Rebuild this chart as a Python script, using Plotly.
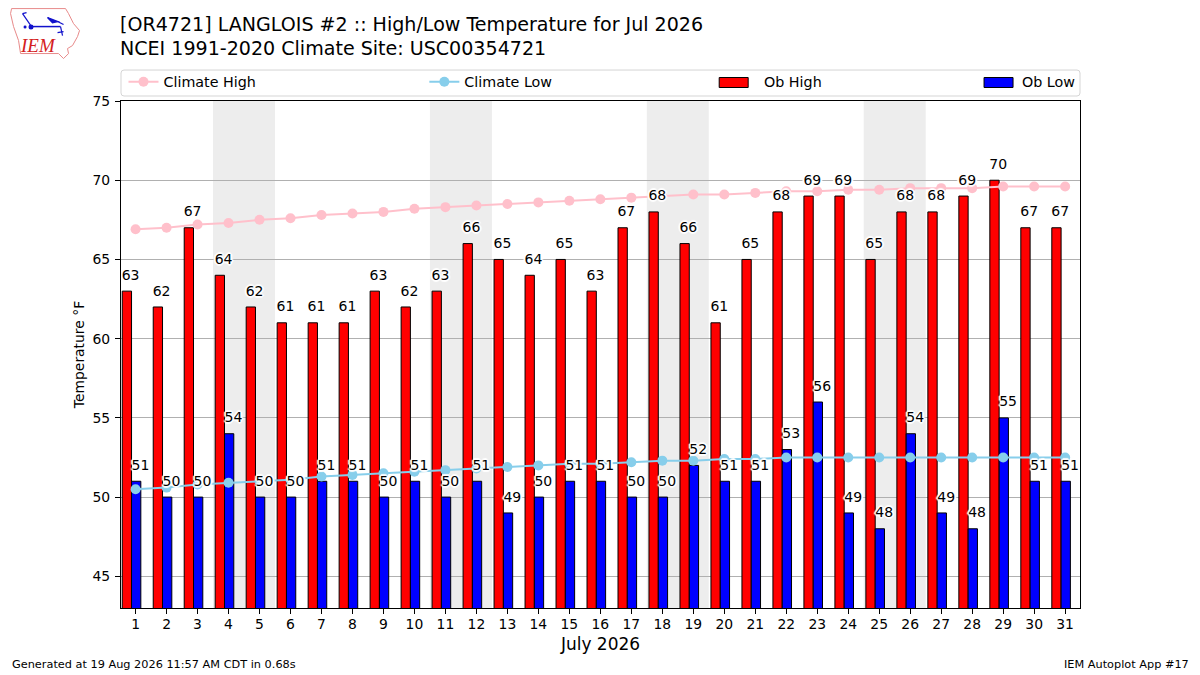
import plotly.graph_objects as go

days = list(range(1, 32))
ob_high = [63, 62, 67, 64, 62, 61, 61, 61, 63, 62, 63, 66, 65, 64, 65, 63,
           67, 68, 66, 61, 65, 68, 69, 69, 65, 68, 68, 69, 70, 67, 67]
ob_low = [51, 50, 50, 54, 50, 50, 51, 51, 50, 51, 50, 51, 49, 50, 51, 51,
          50, 50, 52, 51, 51, 53, 56, 49, 48, 54, 49, 48, 55, 51, 51]
clim_high = [66.9, 67.0, 67.2, 67.3, 67.5, 67.6, 67.8, 67.9, 68.0, 68.2, 68.3,
             68.4, 68.5, 68.6, 68.7, 68.8, 68.9, 69.0, 69.1, 69.1, 69.2, 69.3,
             69.3, 69.4, 69.4, 69.5, 69.5, 69.5, 69.6, 69.6, 69.6]
clim_low = [50.5, 50.6, 50.8, 50.9, 51.0, 51.1, 51.3, 51.4, 51.5, 51.6, 51.7,
            51.8, 51.9, 52.0, 52.1, 52.1, 52.2, 52.3, 52.3, 52.4, 52.4, 52.5,
            52.5, 52.5, 52.5, 52.5, 52.5, 52.5, 52.5, 52.5, 52.5]
weekends = [(3.5, 5.5), (10.5, 12.5), (17.5, 19.5), (24.5, 26.5)]

FONT = "DejaVu Sans"
HALO = ("2px 0 1px white, -2px 0 1px white, 0 2px 1px white, 0 -2px 1px white, "
        "1px 1px 1px white, -1px -1px 1px white, 1px -1px 1px white, -1px 1px 1px white")
LABEL_LIFT = 0.5  # value labels float a little above the bar top
PAGE_MARGIN = 8   # the browser's body margin pushes the figure this far in
PLOT_L, PLOT_R, PLOT_T, PLOT_B = 120.5, 1080, 100.5, 608


# page pixels -> paper coords, for things that sit outside the plot area
def px_x(x):
    return (x - PLOT_L) / (PLOT_R - PLOT_L)


def px_y(y):
    return (PLOT_B - y) / (PLOT_B - PLOT_T)


def px_path(points, close=False):
    s = "M " + " L ".join(f"{px_x(x):.5f},{px_y(y):.5f}" for x, y in points)
    return s + (" Z" if close else "")


def logo_line(points, color, width=1.0, fill=None):
    return dict(type="path", xref="paper", yref="paper", path=px_path(points, fill is not None),
                line=dict(color=color, width=width), fillcolor=fill, layer="above")


def rounded_box(x0, y0, x1, y1, r):
    pts = [("M", x0 + r, y0), ("L", x1 - r, y0), ("Q", x1, y0, x1, y0 + r), ("L", x1, y1 - r),
           ("Q", x1, y1, x1 - r, y1), ("L", x0 + r, y1), ("Q", x0, y1, x0, y1 - r),
           ("L", x0, y0 + r), ("Q", x0, y0, x0 + r, y0)]
    out = []
    for p in pts:
        coords = [f"{px_x(p[i]):.5f},{px_y(p[i + 1]):.5f}" for i in range(1, len(p), 2)]
        out.append(p[0] + " " + " ".join(coords))
    return " ".join(out) + " Z"


def page_text(text, x, y, size, anchor="left", family=FONT, color="black"):
    return dict(text=text, xref="paper", yref="paper", x=px_x(x), y=px_y(y), xanchor=anchor,
                yanchor="middle", showarrow=False, font=dict(family=family, size=size, color=color))


def swatch(x0, color):
    return dict(type="rect", xref="paper", yref="paper", x0=px_x(x0), x1=px_x(x0 + 29),
                y0=px_y(87), y1=px_y(77), fillcolor=color, line=dict(color="black", width=1), layer="above")


fig = go.Figure()

# ---------- bars ----------
fig.add_trace(go.Bar(x=days, y=ob_high, width=0.3, offset=-0.43, name="Ob High", showlegend=False,
                     marker=dict(color="red", line=dict(color="black", width=1))))
fig.add_trace(go.Bar(x=days, y=ob_low, width=0.3, offset=-0.13, name="Ob Low", showlegend=False,
                     marker=dict(color="blue", line=dict(color="black", width=1))))

# ---------- climate lines ----------
fig.add_trace(go.Scatter(x=days, y=clim_high, mode="lines+markers", name="Climate High", legend="legend",
                         line=dict(color="pink", width=2), marker=dict(color="pink", size=10)))
fig.add_trace(go.Scatter(x=days, y=clim_low, mode="lines+markers", name="Climate Low", legend="legend2",
                         line=dict(color="skyblue", width=2), marker=dict(color="skyblue", size=10)))

# ---------- value labels ----------
fig.add_trace(go.Scatter(x=[d - 0.16 for d in days], y=[v + LABEL_LIFT for v in ob_high], mode="text",
                         text=ob_high, textposition="top center", showlegend=False, cliponaxis=False,
                         textfont=dict(family=FONT, size=14, color="black", shadow=HALO)))
fig.add_trace(go.Scatter(x=[d + 0.16 for d in days], y=[v + LABEL_LIFT for v in ob_low], mode="text",
                         text=ob_low, textposition="top center", showlegend=False, cliponaxis=False,
                         textfont=dict(family=FONT, size=14, color="black", shadow=HALO)))

shapes = [dict(type="rect", xref="x", yref="paper", x0=a, x1=b, y0=0, y1=1,
               fillcolor="#ededed", line_width=0, layer="below") for a, b in weekends]

# legend frame and the two bar swatches
shapes.append(dict(type="path", xref="paper", yref="paper", path=rounded_box(120.5, 69.5, 1080, 95.5, 3),
                   line=dict(color="#d5d5d5", width=1), fillcolor="white", layer="below"))
shapes.append(swatch(719, "red"))
shapes.append(swatch(984, "blue"))

# IEM logo, roughly: state outline plus station plot
iowa = [(11, 8), (65, 8), (68, 13), (73, 23), (79, 30), (77, 36), (72, 45), (67, 48), (68, 53),
        (63, 58), (58, 53), (20, 53), (18, 40), (13, 26), (10, 13)]
shapes.append(logo_line(iowa, "#e88a8a", 1.0, fill="rgba(0,0,0,0)"))
shapes.append(logo_line([(31, 26), (60, 26)], "#1111cc", 1.5))
shapes.append(logo_line([(22, 13), (31, 26)], "#1111cc", 1.2))
shapes.append(logo_line([(22, 13), (26, 12)], "#1111cc", 1.2))
shapes.append(logo_line([(47, 17), (57, 21), (52, 22)], "#1111cc", 1.5, fill="#1111cc"))
shapes.append(logo_line([(57, 21), (63, 24)], "#1111cc", 1.2))
shapes.append(logo_line([(60, 26), (62, 35)], "#1111cc", 1.2))
shapes.append(logo_line([(57, 32), (63, 31)], "#1111cc", 1.2))
shapes.append(dict(type="circle", xref="paper", yref="paper", x0=px_x(28), x1=px_x(33),
                   y0=px_y(29), y1=px_y(24), fillcolor="#1111cc", line_width=0, layer="above"))
shapes.append(dict(type="circle", xref="paper", yref="paper", x0=px_x(23), x1=px_x(26),
                   y0=px_y(28), y1=px_y(25), fillcolor="#1111cc", line_width=0, layer="above"))

annotations = [
    page_text("[OR4721] LANGLOIS #2 :: High/Low Temperature for Jul 2026", 117, 23.5, 19.07),
    page_text("NCEI 1991-2020 Climate Site: USC00354721", 117, 47, 19.07),
    page_text("<i>IEM</i>", 37.5, 44.5, 19, anchor="center", family="Liberation Serif", color="#d42020"),
    page_text("Generated at 19 Aug 2026 11:57 AM CDT in 0.68s", 9, 664.5, 11.3),
    page_text("IEM Autoplot App #17", 1191, 664.5, 11.3, anchor="right"),
    page_text("Ob High", 762, 81.5, 14.3),
    page_text("Ob Low", 1020, 81.5, 14.3),
]


def legend_at(left):
    return dict(x=px_x(left), y=px_y(81.5), xanchor="left", yanchor="middle", orientation="h",
                bgcolor="rgba(0,0,0,0)", borderwidth=0, itemwidth=30, itemclick=False,
                font=dict(family=FONT, size=14.3, color="black"))


fig.update_layout(
    width=1200 - PAGE_MARGIN,
    height=675 - PAGE_MARGIN,
    autosize=False,
    margin=dict(l=PLOT_L - PAGE_MARGIN, r=1200 - PLOT_R, t=PLOT_T - PAGE_MARGIN, b=675 - PLOT_B),
    paper_bgcolor="white",
    plot_bgcolor="white",
    barmode="overlay",
    font=dict(family=FONT, size=13.9, color="black"),
    shapes=shapes,
    annotations=annotations,
    legend=legend_at(123),
    legend2=legend_at(424),
    showlegend=True,
)
fig.update_xaxes(range=[0.53, 31.48], tickmode="array", tickvals=days, ticktext=[str(d) for d in days],
                 showgrid=False, zeroline=False, ticks="outside", ticklen=5, tickwidth=1, tickcolor="black",
                 ticklabelstandoff=-2,
                 showline=True, mirror=True, linecolor="black", linewidth=1,
                 title=dict(text="July 2026", font=dict(family=FONT, size=17), standoff=7))
fig.update_yaxes(range=[43, 75], tickvals=[45, 50, 55, 60, 65, 70, 75],
                 showgrid=True, gridcolor="#b0b0b0", gridwidth=1, zeroline=False,
                 ticks="outside", ticklen=5, tickwidth=1, tickcolor="black", ticklabelstandoff=2,
                 showline=True, mirror=True, linecolor="black", linewidth=1,
                 title=dict(text="Temperature °F", font=dict(family=FONT, size=13.9), standoff=4))

fig.write_html("out.html")
